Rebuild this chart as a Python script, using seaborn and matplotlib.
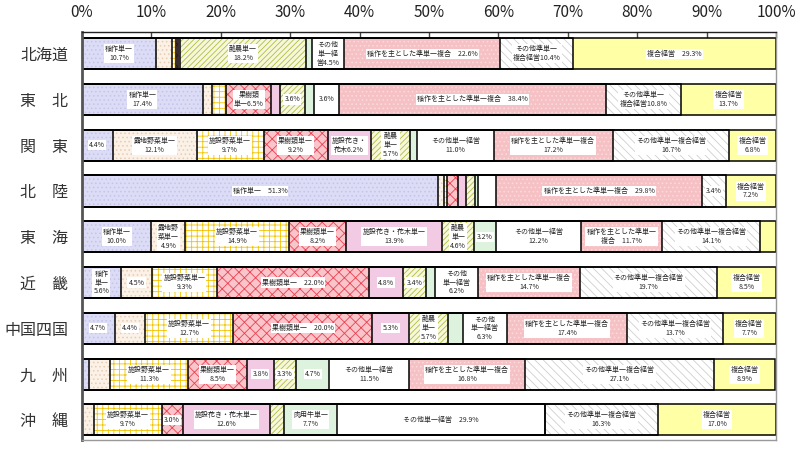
import pandas as pd
import matplotlib
matplotlib.use("Agg")
import matplotlib.pyplot as plt
import seaborn as sns

# regions, top to bottom
regions = ["北海道", "東　北", "関　東", "北　陸", "東　海", "近　畿", "中国四国", "九　州", "沖　縄"]

categories = [
    "稲作単一", "露地野菜単一", "施設野菜単一", "果樹類単一", "施設花き・花木単一",
    "酪農単一", "肉用牛単一", "その他単一経営", "稲作を主とした準単一複合",
    "その他準単一複合経営", "複合経営",
]

# shares (%) per category, one value per region
ine_tanitsu = [10.7, 17.4, 4.4, 51.3, 10.0, 5.6, 4.7, 1.0, 0.0]
roji_yasai = [2.2, 1.4, 12.1, 0.9, 4.9, 4.5, 4.4, 3.0, 1.8]
shisetsu_yasai = [0.6, 2.0, 9.7, 0.4, 14.9, 9.3, 12.7, 11.3, 9.7]
kaju = [0.4, 6.5, 9.2, 1.6, 8.2, 22.0, 20.0, 8.5, 3.0]
kaki = [0.2, 1.2, 6.2, 1.1, 13.9, 4.8, 5.3, 3.8, 12.6]
rakuno = [18.2, 3.6, 5.7, 1.3, 4.6, 3.4, 5.7, 3.3, 2.0]
nikuyogyu = [0.9, 1.4, 1.0, 0.4, 3.2, 1.3, 2.1, 4.7, 7.7]
sonota_tanitsu = [4.5, 3.6, 11.0, 2.6, 12.2, 6.2, 6.3, 11.5, 29.9]
ine_jun = [22.6, 38.4, 17.2, 29.8, 11.7, 14.7, 17.4, 16.8, 0.0]
sonota_jun = [10.4, 10.8, 16.7, 3.4, 14.1, 19.7, 13.7, 27.1, 16.3]
fukugo = [29.3, 13.7, 6.8, 7.2, 2.3, 8.5, 7.7, 8.9, 17.0]

values = [ine_tanitsu, roji_yasai, shisetsu_yasai, kaju, kaki, rakuno,
          nikuyogyu, sonota_tanitsu, ine_jun, sonota_jun, fukugo]

# segment labels, one list per region, same order as categories
labels = [
    ["稲作単一\n10.7%", "", "", "", "", "酪農単一\n18.2%", "", "その他\n単一経\n営4.5%",
     "稲作を主とした準単一複合　22.6%", "その他準単一\n複合経営10.4%", "複合経営　29.3%"],
    ["稲作単一\n17.4%", "", "", "果樹類\n単一6.5%", "", "3.6%", "", "3.6%",
     "稲作を主とした準単一複合　38.4%", "その他準単一\n複合経営10.8%", "複合経営\n13.7%"],
    ["4.4%", "露地野菜単一\n12.1%", "施設野菜単一\n9.7%", "果樹類単一\n9.2%", "施設花き・\n花木6.2%",
     "酪農\n単一\n5.7%", "", "その他単一経営\n11.0%", "稲作を主とした準単一複合\n17.2%",
     "その他準単一複合経営\n16.7%", "複合経営\n6.8%"],
    ["稲作単一　51.3%", "", "", "", "", "", "", "",
     "稲作を主とした準単一複合　29.8%", "3.4%", "複合経営\n7.2%"],
    ["稲作単一\n10.0%", "露地野\n菜単一\n4.9%", "施設野菜単一\n14.9%", "果樹類単一\n8.2%",
     "施設花き・花木単一\n13.9%", "酪農\n単一\n4.6%", "3.2%", "その他単一経営\n12.2%",
     "稲作を主とした準単一\n複合　11.7%", "その他準単一複合経営\n14.1%", ""],
    ["稲作\n単一\n5.6%", "4.5%", "施設野菜単一\n9.3%", "果樹類単一　22.0%", "4.8%", "3.4%", "",
     "その他\n単一経営\n6.2%", "稲作を主とした準単一複合\n14.7%", "その他準単一複合経営\n19.7%",
     "複合経営\n8.5%"],
    ["4.7%", "4.4%", "施設野菜単一\n12.7%", "果樹類単一　20.0%", "5.3%", "酪農\n単一\n5.7%", "",
     "その他\n単一経営\n6.3%", "稲作を主とした準単一複合\n17.4%", "その他準単一複合経営\n13.7%",
     "複合経営\n7.7%"],
    ["", "", "施設野菜単一\n11.3%", "果樹類単一\n8.5%", "3.8%", "3.3%", "4.7%",
     "その他単一経営\n11.5%", "稲作を主とした準単一複合\n16.8%", "その他準単一複合経営\n27.1%",
     "複合経営\n8.9%"],
    ["", "", "施設野菜単一\n9.7%", "3.0%", "施設花き・花木単一\n12.6%", "", "肉用牛単一\n7.7%",
     "その他単一経営　29.9%", "", "その他準単一複合経営\n16.3%", "複合経営\n17.0%"],
]

# fill colour, hatch, hatch colour per category
styles = [
    ("#DCDCF6", "....", "#C4C4E8"),
    ("#FBF1E6", "....", "#E6CDB4"),
    ("white", "+++", "#F2C400"),
    ("#F9C4CA", "xxx", "#EC4050"),
    ("#F3CAE3", None, "#F3CAE3"),
    ("#F6F8DC", "//////", "#B4BC40"),
    ("#DDF3DD", None, "#DDF3DD"),
    ("white", None, "white"),
    ("#F6C1C5", "....", "#FADCDD"),
    ("white", "\\\\\\\\", "#CFCFCF"),
    ("#FFFFA6", None, "#FFFFA6"),
]

sns.set_style("white")
plt.rcParams["font.family"] = ["Noto Sans CJK JP", "DejaVu Sans"]
plt.rcParams["hatch.linewidth"] = 0.6

df = pd.DataFrame(dict(zip(categories, values)), index=regions)
cum = df.cumsum(axis=1)
cum["region"] = regions

fig = plt.figure(figsize=(8, 4.49), dpi=100)
ax = fig.add_axes([0.1025, 0.02, 0.8675, 0.9094])


def new_bars(col):
    n = len(ax.patches)
    sns.barplot(data=cum, x=col, y="region", order=regions, orient="h",
                width=0.68, saturation=1, errorbar=None, color="white", ax=ax)
    return ax.patches[n:]


# stacked fills: cumulative bars drawn longest first
for col, (face, hatch, hc) in reversed(list(zip(categories, styles))):
    for p in new_bars(col):
        p.set_facecolor(face)
        p.set_edgecolor(hc)
        p.set_hatch(hatch)
        p.set_linewidth(0)

# black outlines of every segment
for col in categories:
    for p in new_bars(col):
        p.set_facecolor("none")
        p.set_hatch(None)
        p.set_edgecolor("black")
        p.set_linewidth(1.1)

# segment labels
for i, region in enumerate(regions):
    for j, cat in enumerate(categories):
        txt = labels[i][j]
        if not txt:
            continue
        x = cum.loc[region, cat] - df.loc[region, cat] / 2
        ax.text(x, i, txt, ha="center", va="center", fontsize=5, linespacing=1.15,
                bbox=dict(facecolor="white", edgecolor="none", pad=0.8))

ax.set_xlim(0, 100)
ax.set_ylim(8.44, -0.48)
ax.set_xlabel("")
ax.set_ylabel("")
ax.xaxis.tick_top()
ax.set_xticks(range(0, 101, 10))
ax.set_xticklabels([f"{v}%" for v in range(0, 101, 10)])
ax.tick_params(axis="x", direction="in", length=4, width=1, pad=8,
               labelsize=11, color="#444", labelcolor="#222")
ax.tick_params(axis="y", length=0, pad=10, labelsize=11.5, labelcolor="#333")

for side, lw, c in [("left", 2.0, "#555"), ("top", 1.0, "#222"),
                    ("right", 1.0, "#999"), ("bottom", 1.0, "#999")]:
    ax.spines[side].set_linewidth(lw)
    ax.spines[side].set_color(c)

fig.savefig("out.png", dpi=100)
